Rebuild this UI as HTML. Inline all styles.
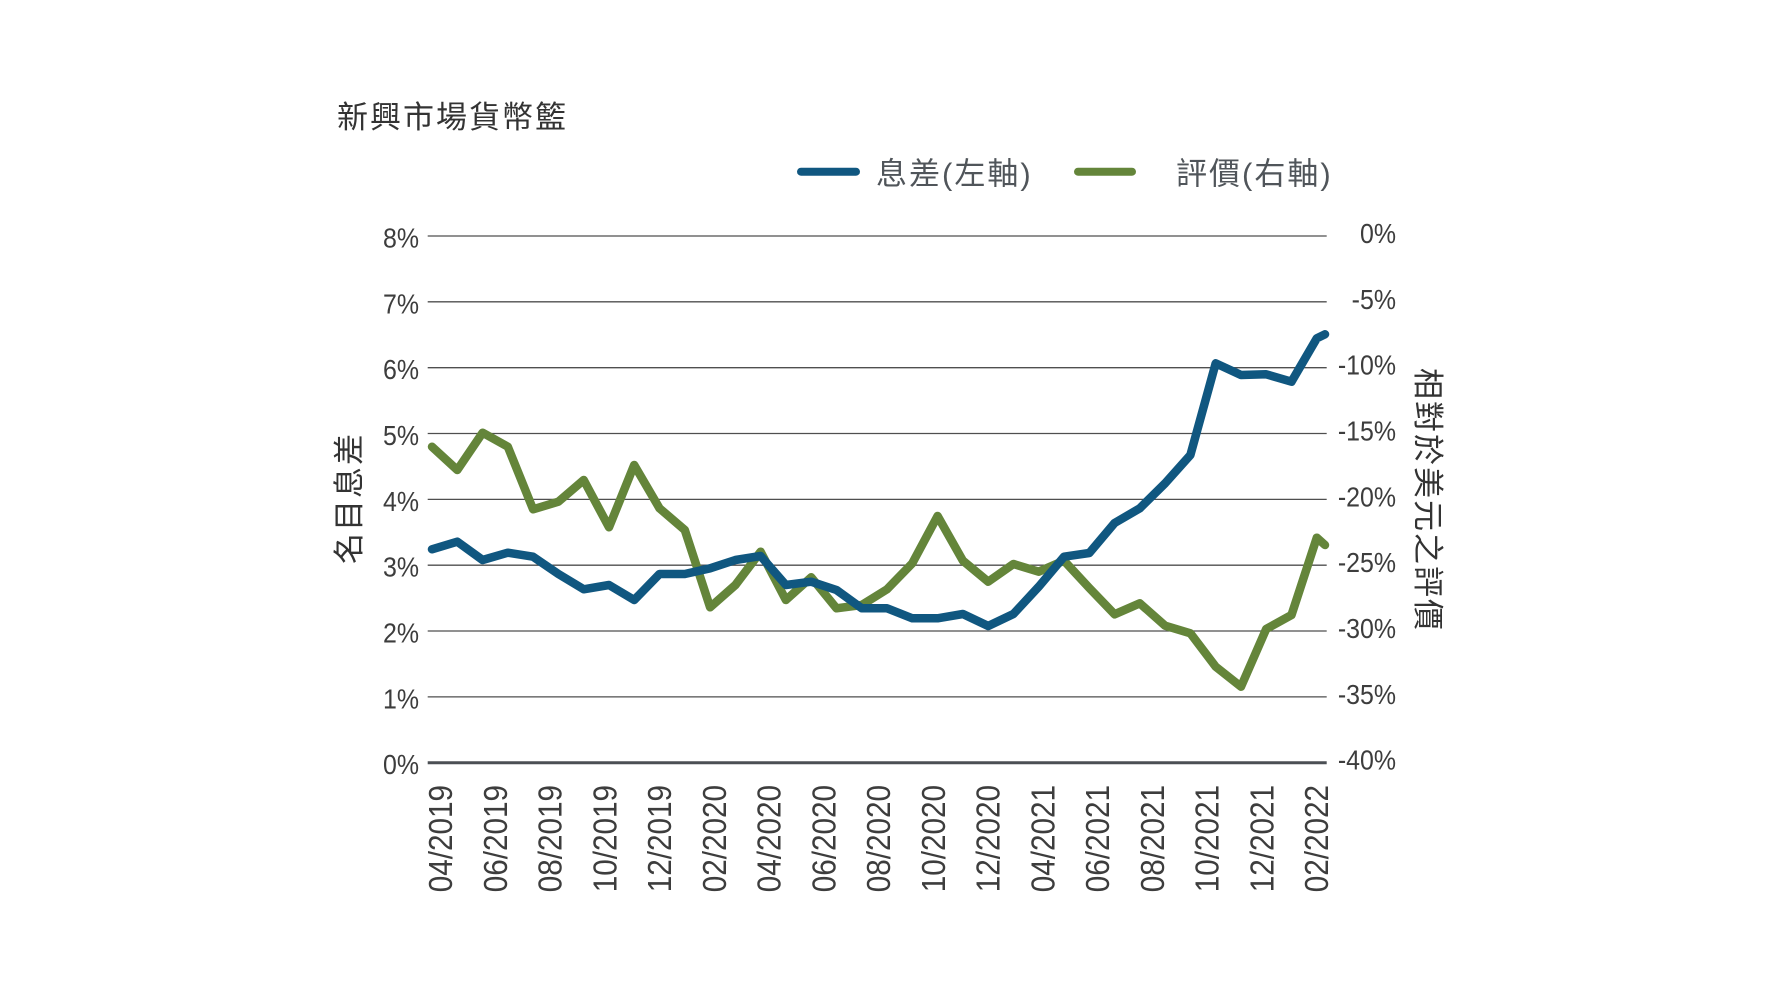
<!DOCTYPE html>
<html>
<head>
<meta charset="utf-8">
<style>
  html, body { margin: 0; padding: 0; background: #ffffff; }
  body { width: 1778px; height: 1000px; overflow: hidden; }
  svg { display: block; }
  .cjk { font-family: "Liberation Sans", "Noto Sans CJK TC", "Noto Sans CJK SC", sans-serif; }
  .num { font-family: "Liberation Sans", sans-serif; }
</style>
</head>
<body>
<svg width="1778" height="1000" viewBox="0 0 1778 1000" xmlns="http://www.w3.org/2000/svg">
  <rect x="0" y="0" width="1778" height="1000" fill="#ffffff"/>

  <!-- Title -->
  <text class="cjk" x="337" y="128" font-size="31" letter-spacing="2" fill="#333333">新興市場貨幣籃</text>

  <!-- Legend -->
  <line x1="801" y1="171.7" x2="856" y2="171.7" stroke="#105780" stroke-width="8" stroke-linecap="round"/>
  <text class="cjk" x="876" y="184.5" font-size="31" letter-spacing="2" fill="#50555a">息差(左軸)</text>
  <line x1="1078" y1="171.7" x2="1132" y2="171.7" stroke="#64853a" stroke-width="8" stroke-linecap="round"/>
  <text class="cjk" x="1176" y="184.5" font-size="31" letter-spacing="2" fill="#50555a">評價(右軸)</text>

  <!-- Gridlines -->
  <g stroke="#4f4f4f" stroke-width="1.3">
    <line x1="427.7" y1="236" x2="1326.7" y2="236"/>
    <line x1="427.7" y1="301.8" x2="1326.7" y2="301.8"/>
    <line x1="427.7" y1="367.7" x2="1326.7" y2="367.7"/>
    <line x1="427.7" y1="433.5" x2="1326.7" y2="433.5"/>
    <line x1="427.7" y1="499.4" x2="1326.7" y2="499.4"/>
    <line x1="427.7" y1="565.2" x2="1326.7" y2="565.2"/>
    <line x1="427.7" y1="631.0" x2="1326.7" y2="631.0"/>
    <line x1="427.7" y1="696.9" x2="1326.7" y2="696.9"/>
  </g>
  <line x1="427.7" y1="762.7" x2="1326.7" y2="762.7" stroke="#4b4f54" stroke-width="3"/>

  <!-- Left axis labels -->
  <g class="num" font-size="28" fill="#3d3d3d" text-anchor="end">
    <text transform="translate(419,247.5) scale(0.89,1)">8%</text>
    <text transform="translate(419,313.3) scale(0.89,1)">7%</text>
    <text transform="translate(419,379.2) scale(0.89,1)">6%</text>
    <text transform="translate(419,445.0) scale(0.89,1)">5%</text>
    <text transform="translate(419,510.9) scale(0.89,1)">4%</text>
    <text transform="translate(419,576.7) scale(0.89,1)">3%</text>
    <text transform="translate(419,642.5) scale(0.89,1)">2%</text>
    <text transform="translate(419,708.4) scale(0.89,1)">1%</text>
    <text transform="translate(419,774.2) scale(0.89,1)">0%</text>
  </g>

  <!-- Right axis labels -->
  <g class="num" font-size="28" fill="#3d3d3d" text-anchor="end">
    <text transform="translate(1396,243) scale(0.89,1)">0%</text>
    <text transform="translate(1396,308.8) scale(0.89,1)">-5%</text>
    <text transform="translate(1396,374.7) scale(0.89,1)">-10%</text>
    <text transform="translate(1396,440.5) scale(0.89,1)">-15%</text>
    <text transform="translate(1396,506.4) scale(0.89,1)">-20%</text>
    <text transform="translate(1396,572.2) scale(0.89,1)">-25%</text>
    <text transform="translate(1396,638.0) scale(0.89,1)">-30%</text>
    <text transform="translate(1396,703.9) scale(0.89,1)">-35%</text>
    <text transform="translate(1396,769.7) scale(0.89,1)">-40%</text>
  </g>

  <!-- Axis titles -->
  <text class="cjk" transform="translate(360,498) rotate(-90)" text-anchor="middle" font-size="31" letter-spacing="2" fill="#333333">名目息差</text>
  <text class="cjk" transform="translate(1417,368) rotate(90)" text-anchor="start" font-size="31" letter-spacing="2" fill="#333333">相對於美元之評價</text>

  <!-- X axis labels -->
  <g class="num" font-size="33" fill="#3d3d3d" text-anchor="end">
    <text transform="translate(452.2,785) rotate(-90) scale(0.9,1)">04/2019</text>
    <text transform="translate(506.9,785) rotate(-90) scale(0.9,1)">06/2019</text>
    <text transform="translate(561.7,785) rotate(-90) scale(0.9,1)">08/2019</text>
    <text transform="translate(616.4,785) rotate(-90) scale(0.9,1)">10/2019</text>
    <text transform="translate(671.2,785) rotate(-90) scale(0.9,1)">12/2019</text>
    <text transform="translate(725.9,785) rotate(-90) scale(0.9,1)">02/2020</text>
    <text transform="translate(780.7,785) rotate(-90) scale(0.9,1)">04/2020</text>
    <text transform="translate(835.4,785) rotate(-90) scale(0.9,1)">06/2020</text>
    <text transform="translate(890.2,785) rotate(-90) scale(0.9,1)">08/2020</text>
    <text transform="translate(944.9,785) rotate(-90) scale(0.9,1)">10/2020</text>
    <text transform="translate(999.7,785) rotate(-90) scale(0.9,1)">12/2020</text>
    <text transform="translate(1054.4,785) rotate(-90) scale(0.9,1)">04/2021</text>
    <text transform="translate(1109.2,785) rotate(-90) scale(0.9,1)">06/2021</text>
    <text transform="translate(1163.9,785) rotate(-90) scale(0.9,1)">08/2021</text>
    <text transform="translate(1218.7,785) rotate(-90) scale(0.9,1)">10/2021</text>
    <text transform="translate(1273.4,785) rotate(-90) scale(0.9,1)">12/2021</text>
    <text transform="translate(1328.2,785) rotate(-90) scale(0.9,1)">02/2022</text>
  </g>

  <!-- Green series: valuation (right axis) -->
  <polyline fill="none" stroke="#64853a" stroke-width="8.5" stroke-linejoin="round" stroke-linecap="round"
    points="432.0,446.7 457.3,470 482.6,432.7 507.8,446.7 533.1,509.3 558.4,501.7 583.7,480 609.0,527.3 634.2,465 659.5,508.3 684.8,530 710.1,607.3 735.4,585 760.6,551.7 785.9,600 811.2,577.3 836.5,608.3 861.8,605 887.0,589.3 912.3,563.3 937.6,516 962.9,560.7 988.2,581.7 1013.4,564 1038.7,571.7 1064.0,560.7 1089.3,588 1114.6,614.3 1139.8,603.3 1165.1,625.7 1190.4,633.3 1215.7,666.7 1241.0,686.7 1266.2,629 1291.5,615 1316.8,537.7 1325.0,545"/>

  <!-- Blue series: spread (left axis) -->
  <polyline fill="none" stroke="#105780" stroke-width="8.5" stroke-linejoin="round" stroke-linecap="round"
    points="432.0,549.3 457.3,541.7 482.6,560 507.8,552.7 533.1,556.7 558.4,574 583.7,589.3 609.0,585 634.2,600 659.5,574 684.8,574 710.1,568.3 735.4,560 760.6,556 785.9,585 811.2,581.7 836.5,590 861.8,608.3 887.0,608.3 912.3,618.3 937.6,618.3 962.9,614 988.2,626 1013.4,614 1038.7,586.7 1064.0,556.7 1089.3,553 1114.6,523 1139.8,508.3 1165.1,483.3 1190.4,455 1215.7,363.3 1241.0,375 1266.2,374.3 1291.5,381.7 1316.8,338.3 1325.0,334.3"/>
</svg>
</body>
</html>
